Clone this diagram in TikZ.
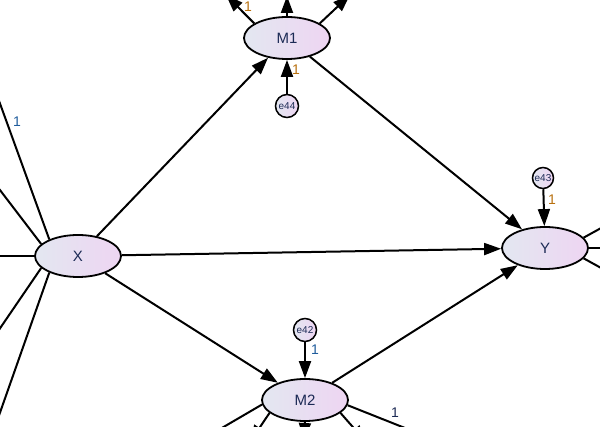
\documentclass[tikz,border=0pt]{standalone}
\usepackage{fontspec}
\setmainfont{Liberation Sans}
\usepackage{tikz}
\usetikzlibrary{arrows.meta}
\usetikzlibrary{shapes.geometric}
\definecolor{fillL}{HTML}{E3E7F1}
\definecolor{fillR}{HTML}{EED5F2}
\definecolor{oneblue}{HTML}{1F5C9C}
\definecolor{oneorange}{HTML}{B8700E}
\definecolor{onenavy}{HTML}{1C2A55}
\tikzset{latent/.style={ellipse, draw, line width=1.8pt, minimum width=86pt, minimum height=42pt, inner sep=0pt, left color=fillL, right color=fillR, text=onenavy, font=\fontsize{15}{17}\selectfont}}
\tikzset{err/.style={circle, draw, line width=1.5pt, minimum size=23pt, inner sep=0pt, left color=fillL, right color=fillR, text=onenavy, font=\fontsize{10}{11}\selectfont}}
\tikzset{regpath/.style={line width=2pt, -{Triangle[length=17pt,width=12pt]}}}
\tikzset{onelab/.style={font=\fontsize{14}{16}\selectfont, inner sep=0pt}}

\begin{document}
\begin{tikzpicture}[x=1pt, y=-1pt]
\useasboundingbox (0,0) rectangle (600,427);
\clip (0,0) rectangle (600,427);
\node[latent] (X) at (78,256) {X};
\node[latent] (M1) at (287,38) {M1};
\node[latent] (M2) at (305,400) {M2};
\node[latent] (Y) at (545,248) {Y};
\node[err] (e44) at (287,106) {e44};
\node[err, minimum size=21pt] (e43) at (543,178) {e43};
\node[err] (e42) at (305,330) {e42};
\foreach \a/\b in {X/M1, X/Y, X/M2, M1/Y, M2/Y, e44/M1, e43/Y, e42/M2}
  \draw[regpath] (\a) -- (\b);
\foreach \ang/\x/\y in {150/-10/76, 162/-10/177, 180/-10/256, 198/-10/343, 210/-10/441}
  \draw[line width=2pt] (X.\ang) -- (\x,\y);
\foreach \ang/\x/\y in {15/612/222, 0/612/248, -15/612/274}
  \draw[line width=2pt] (Y.\ang) -- (\x,\y);
\foreach \ang/\x/\y in {156/226/-5, 90/287/-4, 24/350/-5}
  \draw[regpath] (M1.\ang) -- (\x,\y);
\foreach \ang/\x/\y in {200/250/442, 270/304/440, -20/366/442}
  \draw[regpath] (M2.\ang) -- (\x,\y);
\foreach \ang/\x/\y in {186/215/432, -7/410/430}
  \draw[line width=2pt] (M2.\ang) -- (\x,\y);
\node[onelab, text=oneblue] (l1) at (17,122) {1};
\node[onelab, text=oneorange] (l2) at (248,7) {1};
\node[onelab, text=oneorange] (l3) at (296,70) {1};
\node[onelab, text=oneorange] (l4) at (552,200) {1};
\node[onelab, text=oneblue] (l5) at (315,350) {1};
\node[onelab, text=onenavy] (l6) at (395,413) {1};
\end{tikzpicture}
\end{document}
